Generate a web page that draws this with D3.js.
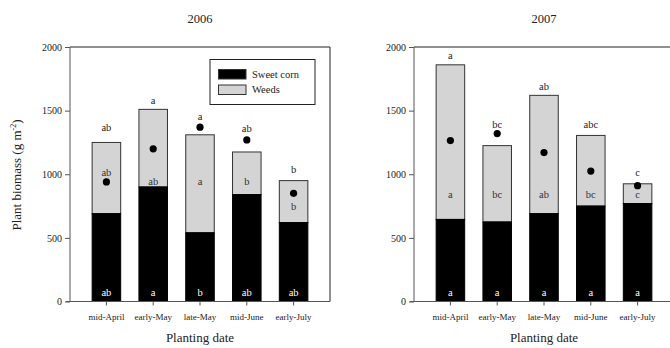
<!DOCTYPE html>
<html><head><meta charset="utf-8">
<script src="https://cdn.jsdelivr.net/npm/d3@7"></script>
<style>body{margin:0;background:#fff}svg text{font-family:"Liberation Serif","Times New Roman",Times,serif !important}</style>
</head><body><svg id="c" width="670" height="348"></svg>
<script>
const categories = ["mid-April","early-May","late-May","mid-June","early-July"];
const years = ["2006","2007"];
const corn2006 = [690, 900, 540, 840, 620];
const total2006 = [1250, 1510, 1310, 1175, 950];
const dot2006 = [940, 1200, 1370, 1270, 850];
const corn2007 = [645, 625, 690, 750, 770];
const total2007 = [1860, 1225, 1620, 1305, 925];
const dot2007 = [1265, 1320, 1170, 1025, 910];
const topLetters2006 = ["ab","a","a","ab","b"];
const weedLetters2006 = ["ab","ab","a","b","b"];
const cornLetters2006 = ["ab","a","b","ab","ab"];
const topLetters2007 = ["a","bc","ab","abc","c"];
const weedLetters2007 = ["a","bc","ab","bc","c"];
const cornLetters2007 = ["a","a","a","a","a"];
const topLabelY2006 = [1370, 1580, 1450, 1360, 1040];
const weedLabelY2006 = [1010, 940, 940, 940, 745];
const topLabelY2007 = [1930, 1390, 1690, 1390, 1015];
const weedLabelY2007 = [840, 840, 840, 840, 840];
const yTicks = [0, 500, 1000, 1500, 2000];

const panels = [
  {year: years[0], left: 70, corn: corn2006, total: total2006, dot: dot2006, top: topLetters2006, weed: weedLetters2006, cornL: cornLetters2006, topY: topLabelY2006, weedY: weedLabelY2006, legend: true},
  {year: years[1], left: 414, corn: corn2007, total: total2007, dot: dot2007, top: topLetters2007, weed: weedLetters2007, cornL: cornLetters2007, topY: topLabelY2007, weedY: weedLabelY2007, legend: false}
];
const svg = d3.select("#c");
const W = 260, yTop = 47, yBot = 301.5;
const y = d3.scaleLinear().domain([0, 2000]).range([yBot, yTop]);
const gray = "#d4d4d4";
const axisCol = "#555";

panels.forEach(p => {
  const x = d3.scaleBand().domain(categories).range([p.left, p.left + W]).paddingInner(0.39).paddingOuter(0.473);
  const g = svg.append("g");
  g.append("path").attr("d", `M${p.left},${yTop}H${p.left+W}V${yBot}`).attr("fill","none").attr("stroke","#222").attr("stroke-width",1);
  categories.forEach((c, i) => {
    g.append("rect").attr("x", x(c)).attr("width", x.bandwidth()).attr("y", y(p.total[i])).attr("height", y(p.corn[i]) - y(p.total[i]))
      .attr("fill", gray).attr("stroke", "#333").attr("stroke-width", 1);
    g.append("rect").attr("x", x(c)).attr("width", x.bandwidth()).attr("y", y(p.corn[i])).attr("height", y(0) - y(p.corn[i]))
      .attr("fill", "#000").attr("stroke", "#000").attr("stroke-width", 1);
    g.append("circle").attr("cx", x(c) + x.bandwidth()/2).attr("cy", y(p.dot[i])).attr("r", 3.6).attr("fill", "#000");
    const cx = x(c) + x.bandwidth()/2;
    g.append("text").attr("x", cx).attr("y", y(p.topY[i])).attr("dy","0.32em").attr("text-anchor","middle").attr("font-size",10.5).attr("fill","#222").text(p.top[i]);
    g.append("text").attr("x", cx).attr("y", y(p.weedY[i])).attr("dy","0.32em").attr("text-anchor","middle").attr("font-size",10.5).attr("fill","#333").text(p.weed[i]);
    g.append("text").attr("x", cx).attr("y", y(70)).attr("dy","0.32em").attr("text-anchor","middle").attr("font-size",10.5).attr("fill","#fff").text(p.cornL[i]);
  });
  const ya = g.append("g").attr("transform", `translate(${p.left},0)`).call(d3.axisLeft(y).tickValues(yTicks).tickFormat(d3.format("d")).tickSize(5).tickPadding(3));
  ya.selectAll("path,line").attr("stroke", axisCol);
  ya.select(".domain").attr("d", `M0,${yTop}V${yBot}`);
  ya.selectAll("text").attr("font-size",10).attr("fill","#222");
  const xa = g.append("g").attr("transform", `translate(0,${yBot})`).call(d3.axisBottom(x).tickSize(4).tickPadding(8));
  xa.selectAll("path,line").attr("stroke", axisCol);
  xa.select(".domain").attr("d", `M${p.left-4},0H${p.left+W}`);
  xa.selectAll("text").attr("font-size",9).attr("fill","#222");
  g.append("text").attr("x", p.left + 130).attr("y", 23).attr("text-anchor","middle").attr("font-size",12.5).attr("fill","#222").text(p.year);
  g.append("text").attr("x", p.left + 130).attr("y", 342).attr("text-anchor","middle").attr("font-size",13).attr("fill","#222").text("Planting date");
  if (p.legend) {
    const lg = g.append("g");
    lg.append("rect").attr("x", 210).attr("y", 59.5).attr("width", 105).attr("height", 45).attr("fill","#fff").attr("stroke","#222");
    const items = [["Sweet corn","#000"],["Weeds",gray]];
    items.forEach((it, k) => {
      lg.append("rect").attr("x", 218.5).attr("y", 69.5 + k*15.5).attr("width", 27.5).attr("height", 9.5).attr("fill", it[1]).attr("stroke","#333");
      lg.append("text").attr("x", 252).attr("y", 74.5 + k*15.5).attr("dy","0.32em").attr("font-size",10.5).attr("fill","#222").text(it[0]);
    });
  }
});
svg.append("text").attr("transform","translate(21,175) rotate(-90)").attr("text-anchor","middle").attr("font-size",13).attr("fill","#222")
  .html('Plant biomass (g m<tspan dy="-5" font-size="8">-2</tspan><tspan dy="5">)</tspan>');
</script></body></html>
